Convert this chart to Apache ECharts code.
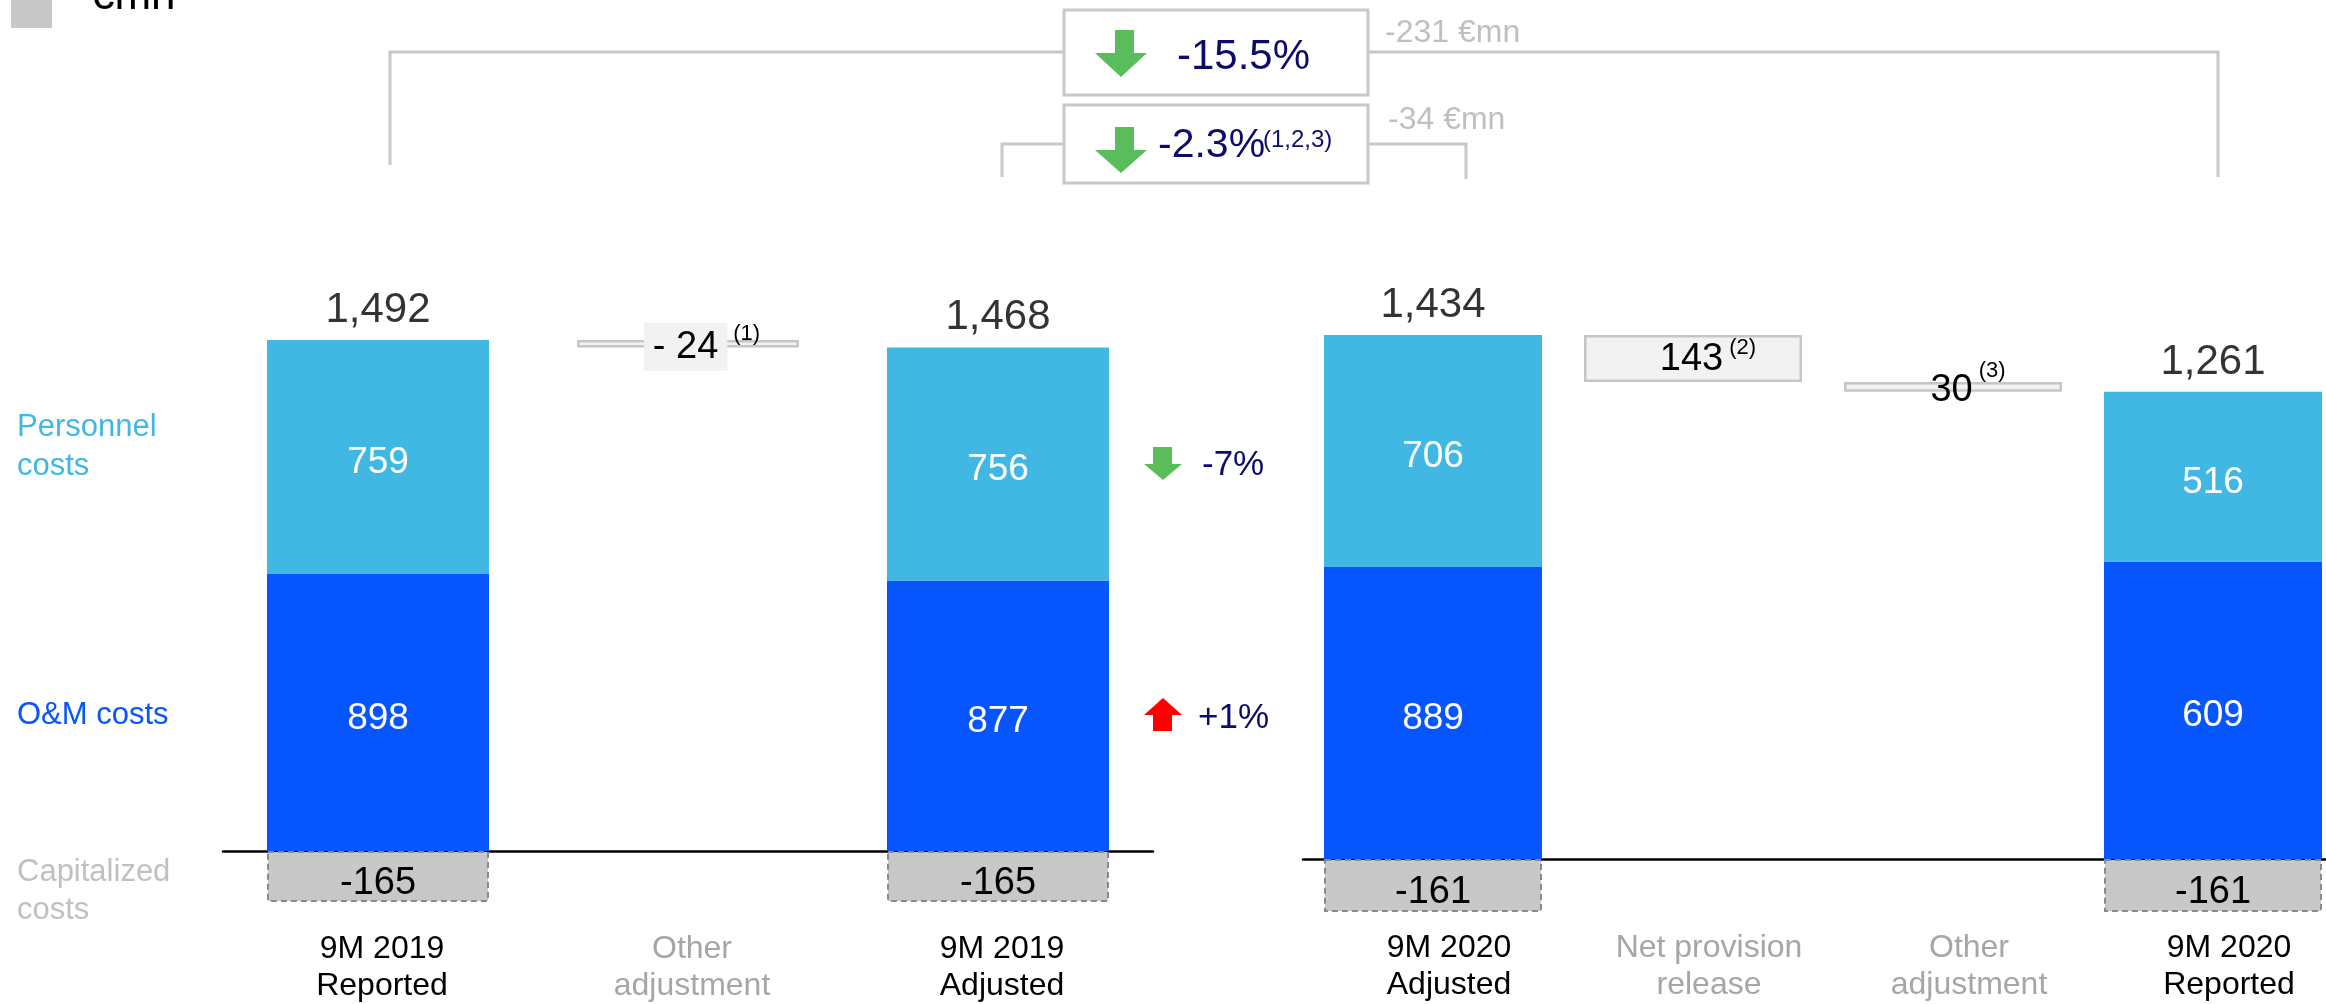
<!DOCTYPE html>
<html><head><meta charset="utf-8">
<script src="https://cdn.jsdelivr.net/npm/echarts@6/dist/echarts.min.js"></script>
<style>html,body{margin:0;padding:0;background:#fff}#c{width:2326px;height:1004px}</style>
</head><body><div id="c"></div>
<script>
// ---------------- data ----------------
const categoriesLeft = ['9M 2019\nReported', 'Other\nadjustment', '9M 2019\nAdjusted'];
const categoriesRight = ['9M 2020\nAdjusted', 'Net provision\nrelease', 'Other\nadjustment', '9M 2020\nReported'];
const totalsLeft = [1492, 1468];          // 9M 2019 Reported, 9M 2019 Adjusted
const totalsRight = [1434, 1261];         // 9M 2020 Adjusted, 9M 2020 Reported
const personnelLeft = [759, 756];
const personnelRight = [706, 516];
const omLeft = [898, 877];                // printed O&M values
const omRight = [889, 609];
const capitalizedLeft = [-165, -165];
const capitalizedRight = [-161, -161];
const adjustmentLeft = [-24];             // change of total
const adjustmentRight = [-143, -30];      // change of total (releases)
const adjustmentNotes = ['(1)', '(2)', '(3)'];
const changeTotal = '-15.5%', changeTotalAbs = '-231 €mn';
const changeAdjusted = '-2.3%', changeAdjustedNote = '(1,2,3)', changeAdjustedAbs = '-34 €mn';
const changePersonnel = '-7%', changeOM = '+1%';

// ---------------- derived series ----------------
const FONT = "'Liberation Sans', Arial, sans-serif";
const C_PERS = '#41b8e4', C_OM = '#0755fd', C_CAP = '#c8c8c8', NAVY = '#0c0c6c';
const grossL = totalsLeft.map((t, i) => t - capitalizedLeft[i]);
const grossR = totalsRight.map((t, i) => t - capitalizedRight[i]);
const omDrawnL = grossL.map((g, i) => g - personnelLeft[i]);
const omDrawnR = grossR.map((g, i) => g - personnelRight[i]);

const stepsL = [];
{ let run = grossL[0]; adjustmentLeft.forEach(a => { const nxt = run + a; stepsL.push({base: Math.min(run, nxt), h: Math.abs(a), a}); run = nxt; }); }
const stepsR = [];
{ let run = grossR[0]; adjustmentRight.forEach(a => { const nxt = run + a; stepsR.push({base: Math.min(run, nxt), h: Math.abs(a), a}); run = nxt; }); }

const fmt = v => v.toLocaleString('en-US');
const catLabel = (c, i, n) => ({value: c, textStyle: {color: (i === 0 || i === n - 1) ? '#000' : '#a6a6a6'}});

function sideSeries(gi, nCat, gross, pers, omDrawn, omPrinted, cap, totals, steps, barW, floatLabels) {
  const ends = [0, nCat - 1];
  const arr = (vals) => { const a = new Array(nCat).fill(null); ends.forEach((e, k) => a[e] = vals[k]); return a; };
  const base = new Array(nCat).fill(null), flt = new Array(nCat).fill(null);
  steps.forEach((s, k) => { base[k + 1] = s.base; flt[k + 1] = {value: s.h, label: floatLabels[k]}; });
  const stack = 'S' + gi;
  return [
    {type: 'bar', name: 'Capitalized costs', xAxisIndex: gi, yAxisIndex: gi, stack, barWidth: barW,
      data: arr(cap),
      itemStyle: {color: C_CAP, borderColor: '#8a8a8a', borderWidth: 2, borderType: [6, 4]},
      label: {show: true, position: 'inside', offset: [0, 7], color: '#000', fontSize: 38, fontFamily: FONT, formatter: p => p.value}},
    {type: 'bar', name: 'O&M costs', xAxisIndex: gi, yAxisIndex: gi, stack, barWidth: barW,
      data: arr(omDrawn), itemStyle: {color: C_OM},
      label: {show: true, position: 'inside', offset: [0, 6], color: '#fff', fontSize: 37, fontFamily: FONT,
        formatter: p => fmt(omPrinted[ends.indexOf(p.dataIndex)])}},
    {type: 'bar', name: 'Personnel costs', xAxisIndex: gi, yAxisIndex: gi, stack, barWidth: barW,
      data: arr(pers), itemStyle: {color: C_PERS},
      label: {show: true, position: 'inside', offset: [0, 6], color: '#fff', fontSize: 37, fontFamily: FONT, formatter: p => p.value}},
    {type: 'bar', name: 'base', xAxisIndex: gi, yAxisIndex: gi, stack, barWidth: barW,
      data: base, itemStyle: {color: 'rgba(0,0,0,0)'}, silent: true},
    {type: 'bar', name: 'adjustment', xAxisIndex: gi, yAxisIndex: gi, stack, barWidth: barW,
      data: flt, itemStyle: {color: '#f2f2f2', borderColor: '#c6c6c6', borderWidth: 2.5}},
    {type: 'scatter', name: 'total', xAxisIndex: gi, yAxisIndex: gi, symbolSize: 1,
      itemStyle: {color: 'rgba(0,0,0,0)'},
      data: ends.map((e, k) => [e, gross[k]]),
      label: {show: true, position: 'top', distance: 8, color: '#000', fontSize: 42, lineHeight: 42, fontFamily: FONT,
        formatter: p => fmt(totals[ends.indexOf(p.data[0])])}}
  ];
}

const supRich = (L) => ({
  a: {fontSize: 38, lineHeight: L, fontFamily: FONT, color: '#000'},
  b: {fontSize: 38, lineHeight: L, fontFamily: FONT, color: '#000', backgroundColor: '#f2f2f2', padding: [6, 9, 4, 9]},
  s: {fontSize: 22, lineHeight: 22, fontFamily: FONT, color: '#000', verticalAlign: 'top', padding: [0, 0, 0, 6]}
});
const floatLabelsL = stepsL.map((s, k) => ({show: true, position: 'inside', offset: [14, 3], rich: supRich(48),
  formatter: '{b|' + (s.a < 0 ? '- ' : '') + Math.abs(s.a) + '}{s|' + adjustmentNotes[k] + '}'}));
const floatLabelsR = stepsR.map((s, k) => ({show: true, position: 'inside', offset: [15, k === 1 ? 4 : 1], rich: supRich(k === 1 ? 62 : 46),
  formatter: '{a|' + Math.abs(s.a) + '}{s|' + adjustmentNotes[k + 1] + '}'}));

const series = [
  ...sideSeries(0, 3, grossL, personnelLeft, omDrawnL, omLeft, capitalizedLeft, totalsLeft, stepsL, 222, floatLabelsL),
  ...sideSeries(1, 4, grossR, personnelRight, omDrawnR, omRight, capitalizedRight, totalsRight, stepsR, 218, floatLabelsR)
];

// ---------------- annotation graphics ----------------
const GREEN = '#59bd5b', GREY_L = '#c8c8c8';
const txt = (x, y, text, size, color, align) => ({type: 'text', x, y, z: 10,
  style: {text, fill: color, font: size + 'px ' + FONT, textAlign: align || 'left', textVerticalAlign: 'middle', align: align || 'left', verticalAlign: 'middle'}});
const poly = (pts, fill) => ({type: 'polygon', z: 10, shape: {points: pts}, style: {fill}});
const down = (x0, x1, s0, s1, y0, yh, y1, fill) => poly([[s0, y0], [s1, y0], [s1, yh], [x1, yh], [(x0 + x1) / 2, y1], [x0, yh], [s0, yh]], fill);
const up = (x0, x1, s0, s1, y0, yh, y1, fill) => poly([[(x0 + x1) / 2, y0], [x1, yh], [s1, yh], [s1, y1], [s0, y1], [s0, yh], [x0, yh]], fill);
const line = (pts) => ({type: 'polyline', z: 5, shape: {points: pts}, style: {stroke: GREY_L, lineWidth: 3, fill: null}});

const graphics = [
  {type: 'rect', shape: {x: 11, y: -10, width: 41, height: 38}, style: {fill: '#c8c8c8'}},
  {type: 'text', x: 90, y: 19, style: {text: '€mn', fill: '#000', font: '44px ' + FONT, textVerticalAlign: 'bottom', verticalAlign: 'bottom'}},
  line([[390, 165], [390, 52], [1064, 52]]),
  line([[1368, 52], [2218, 52], [2218, 177]]),
  line([[1002, 177], [1002, 144], [1064, 144]]),
  line([[1368, 144], [1466, 144], [1466, 179]]),
  {type: 'rect', z: 6, shape: {x: 1064, y: 10, width: 304, height: 85}, style: {fill: '#fff', stroke: GREY_L, lineWidth: 3}},
  {type: 'rect', z: 6, shape: {x: 1064, y: 105, width: 304, height: 78}, style: {fill: '#fff', stroke: GREY_L, lineWidth: 3}},
  down(1095, 1147, 1115, 1134, 30, 53, 77, GREEN),
  down(1095, 1147, 1115, 1134, 127, 150, 173, GREEN),
  txt(1177, 57, changeTotal, 42, NAVY),
  txt(1158, 146, changeAdjusted, 41, NAVY),
  txt(1263, 140, changeAdjustedNote, 24, NAVY),
  txt(1385, 33, changeTotalAbs, 32, '#bfbfbf'),
  txt(1388, 120, changeAdjustedAbs, 32, '#bfbfbf'),
  down(1144, 1182, 1153, 1172, 447, 464, 480, GREEN),
  txt(1202, 465, changePersonnel, 35, NAVY),
  up(1144, 1182, 1153, 1172, 698, 715, 731, '#ff0000'),
  txt(1198, 718, changeOM, 35, NAVY),
  txt(17, 427, 'Personnel', 31, C_PERS),
  txt(17, 466, 'costs', 31, C_PERS),
  txt(17, 715, 'O&M costs', 31, C_OM),
  txt(17, 872, 'Capitalized', 31, '#c0c0c0'),
  txt(17, 910, 'costs', 31, '#c0c0c0')
];

const axisLabelBase = {fontSize: 32, lineHeight: 37, fontFamily: FONT, interval: 0};
const option = {
  backgroundColor: '#fff',
  animation: false,
  grid: [
    {left: 223, width: 930, top: 234.2, height: 678.5, containLabel: false, outerBoundsMode: 'none'},
    {left: 1303, width: 1040, top: 202, height: 722.7, containLabel: false, outerBoundsMode: 'none'}
  ],
  xAxis: [
    {type: 'category', gridIndex: 0, data: categoriesLeft.map((c, i) => catLabel(c, i, 3)),
      axisLine: {lineStyle: {color: '#000', width: 2.5}}, axisTick: {show: false},
      axisLabel: Object.assign({margin: 18, padding: [0, 0, 0, 8]}, axisLabelBase)},
    {type: 'category', gridIndex: 1, data: categoriesRight.map((c, i) => catLabel(c, i, 4)),
      axisLine: {lineStyle: {color: '#000', width: 2.5}}, axisTick: {show: false},
      axisLabel: Object.assign({margin: 5, padding: [0, 0, 0, 32]}, axisLabelBase)}
  ],
  yAxis: [
    {type: 'value', gridIndex: 0, min: -200, max: 2000, show: false, splitLine: {show: false}},
    {type: 'value', gridIndex: 1, min: -200, max: 2000, show: false, splitLine: {show: false}}
  ],
  series,
  graphic: {elements: graphics}
};
const chart = echarts.init(document.getElementById('c'), null, {renderer: 'canvas'});
chart.setOption(option);
</script></body></html>
